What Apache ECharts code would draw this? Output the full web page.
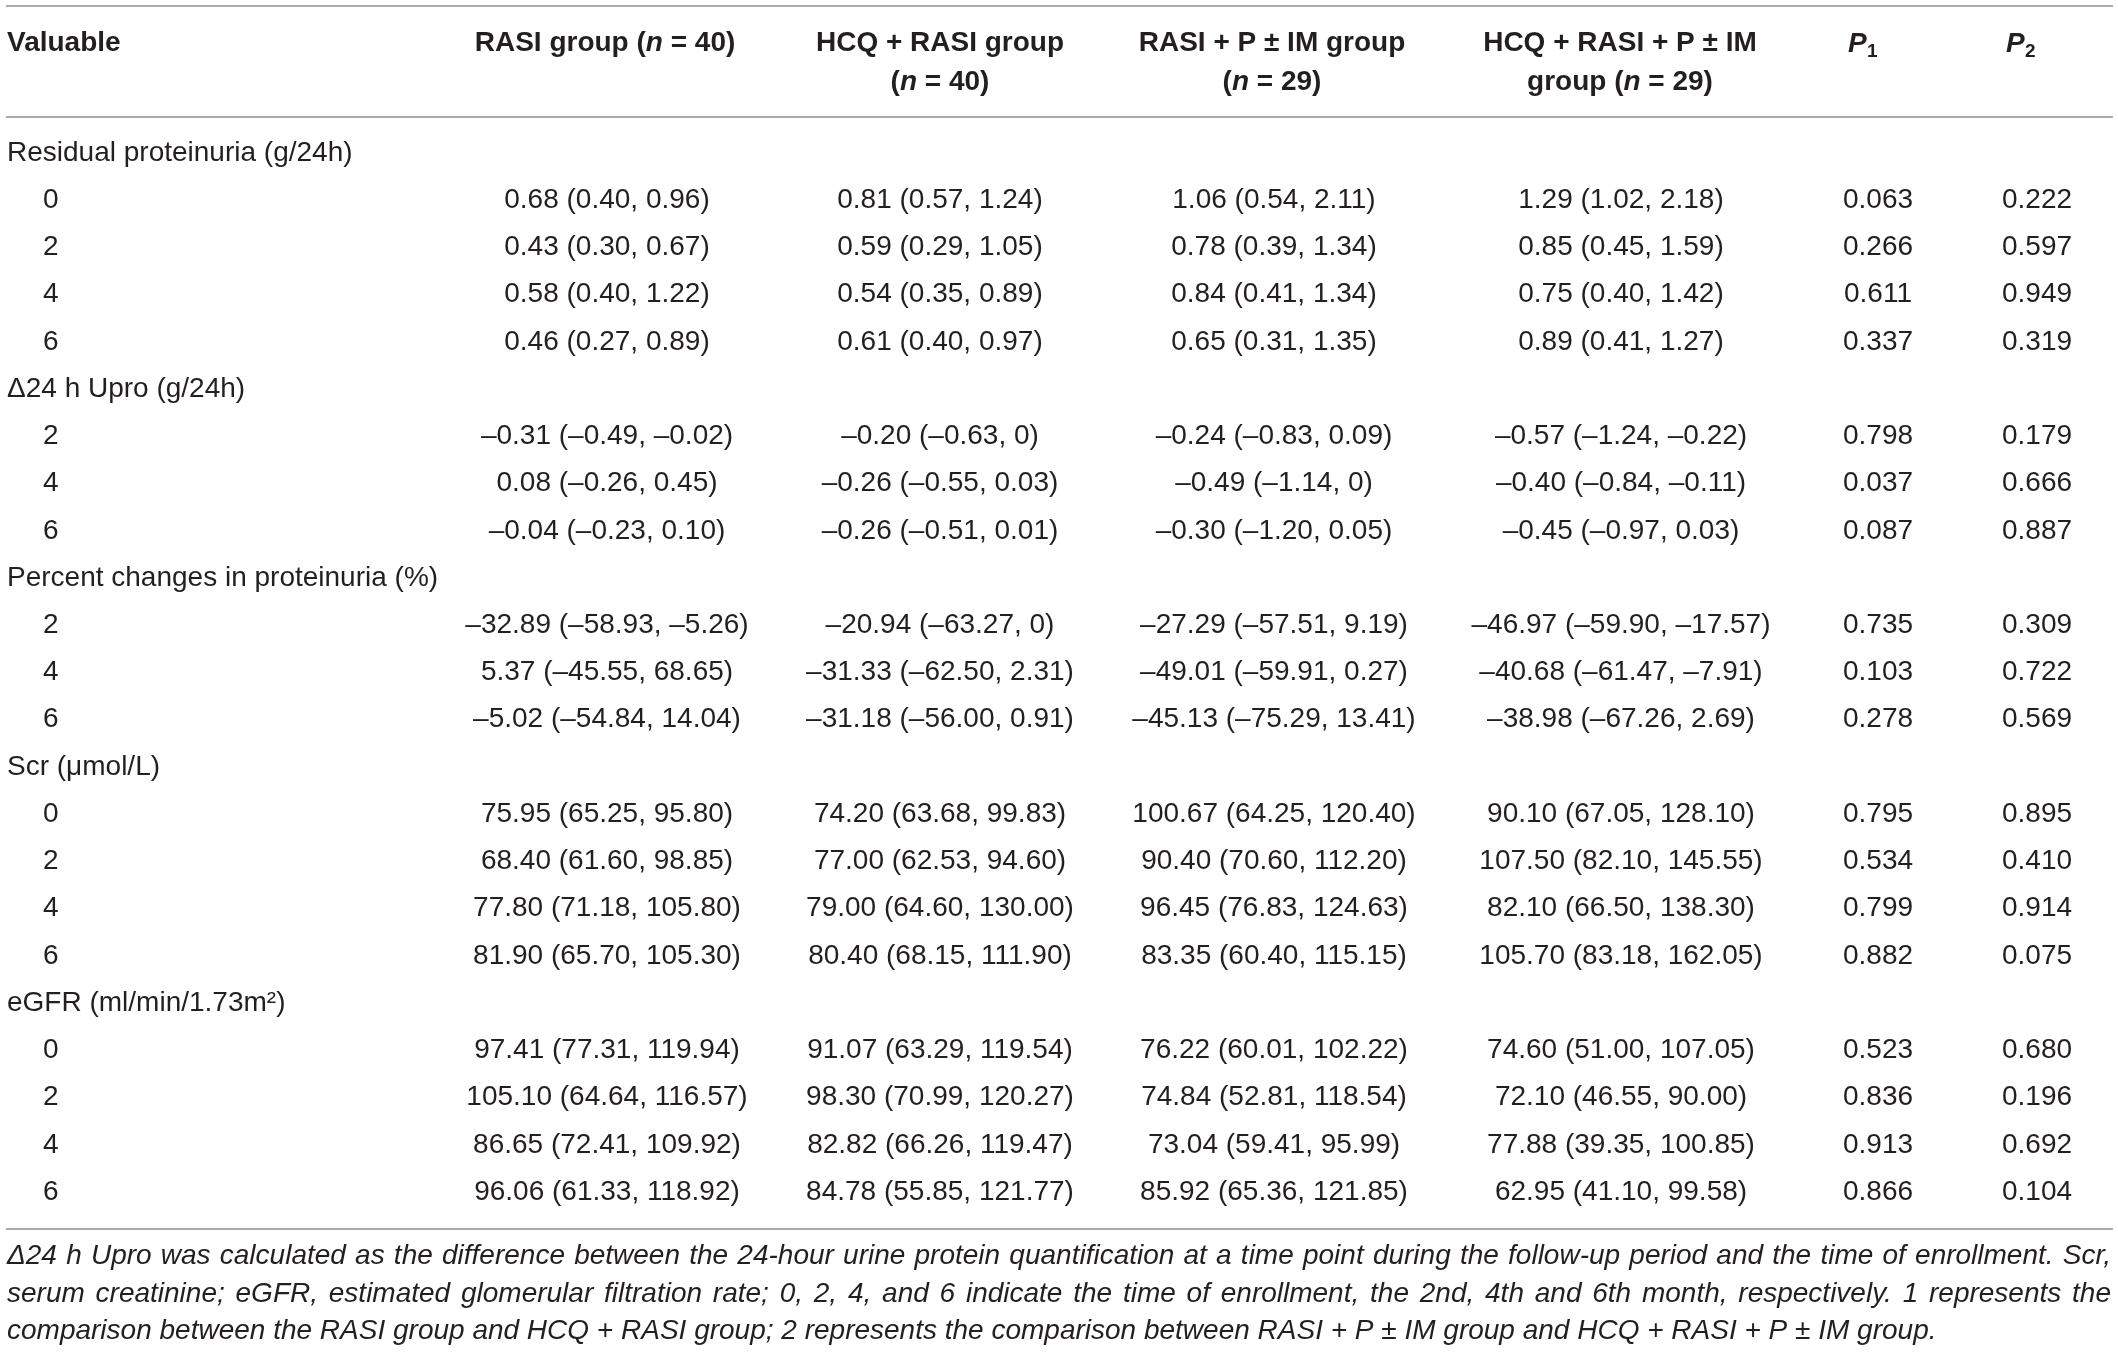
<!DOCTYPE html>
<html>
<head>
<meta charset="utf-8">
<title>Table</title>
<script src="https://cdn.jsdelivr.net/npm/echarts@6/dist/echarts.min.js"></script>
<style>
  html, body { margin: 0; padding: 0; background: #fff; }
  #main { width: 2118px; height: 1352px; }
</style>
</head>
<body>
<div id="main"></div>
<script type="text/javascript">

// ---- table data ----
var rowLabels = ['Residual proteinuria (g/24h)', '0', '2', '4', '6',
    '\u039424 h Upro (g/24h)', '2', '4', '6',
    'Percent changes in proteinuria (%)', '2', '4', '6',
    'Scr (\u03bcmol/L)', '0', '2', '4', '6',
    'eGFR (ml/min/1.73m\u00b2)', '0', '2', '4', '6'];

var rasiGroup = ['', '0.68 (0.40, 0.96)', '0.43 (0.30, 0.67)', '0.58 (0.40, 1.22)', '0.46 (0.27, 0.89)',
    '', '–0.31 (–0.49, –0.02)', '0.08 (–0.26, 0.45)', '–0.04 (–0.23, 0.10)',
    '', '–32.89 (–58.93, –5.26)', '5.37 (–45.55, 68.65)', '–5.02 (–54.84, 14.04)',
    '', '75.95 (65.25, 95.80)', '68.40 (61.60, 98.85)', '77.80 (71.18, 105.80)', '81.90 (65.70, 105.30)',
    '', '97.41 (77.31, 119.94)', '105.10 (64.64, 116.57)', '86.65 (72.41, 109.92)', '96.06 (61.33, 118.92)'];

var hcqRasiGroup = ['', '0.81 (0.57, 1.24)', '0.59 (0.29, 1.05)', '0.54 (0.35, 0.89)', '0.61 (0.40, 0.97)',
    '', '–0.20 (–0.63, 0)', '–0.26 (–0.55, 0.03)', '–0.26 (–0.51, 0.01)',
    '', '–20.94 (–63.27, 0)', '–31.33 (–62.50, 2.31)', '–31.18 (–56.00, 0.91)',
    '', '74.20 (63.68, 99.83)', '77.00 (62.53, 94.60)', '79.00 (64.60, 130.00)', '80.40 (68.15, 111.90)',
    '', '91.07 (63.29, 119.54)', '98.30 (70.99, 120.27)', '82.82 (66.26, 119.47)', '84.78 (55.85, 121.77)'];

var rasiPGroup = ['', '1.06 (0.54, 2.11)', '0.78 (0.39, 1.34)', '0.84 (0.41, 1.34)', '0.65 (0.31, 1.35)',
    '', '–0.24 (–0.83, 0.09)', '–0.49 (–1.14, 0)', '–0.30 (–1.20, 0.05)',
    '', '–27.29 (–57.51, 9.19)', '–49.01 (–59.91, 0.27)', '–45.13 (–75.29, 13.41)',
    '', '100.67 (64.25, 120.40)', '90.40 (70.60, 112.20)', '96.45 (76.83, 124.63)', '83.35 (60.40, 115.15)',
    '', '76.22 (60.01, 102.22)', '74.84 (52.81, 118.54)', '73.04 (59.41, 95.99)', '85.92 (65.36, 121.85)'];

var hcqRasiPGroup = ['', '1.29 (1.02, 2.18)', '0.85 (0.45, 1.59)', '0.75 (0.40, 1.42)', '0.89 (0.41, 1.27)',
    '', '–0.57 (–1.24, –0.22)', '–0.40 (–0.84, –0.11)', '–0.45 (–0.97, 0.03)',
    '', '–46.97 (–59.90, –17.57)', '–40.68 (–61.47, –7.91)', '–38.98 (–67.26, 2.69)',
    '', '90.10 (67.05, 128.10)', '107.50 (82.10, 145.55)', '82.10 (66.50, 138.30)', '105.70 (83.18, 162.05)',
    '', '74.60 (51.00, 107.05)', '72.10 (46.55, 90.00)', '77.88 (39.35, 100.85)', '62.95 (41.10, 99.58)'];

var p1Values = ['', '0.063', '0.266', '0.611', '0.337', '', '0.798', '0.037', '0.087',
    '', '0.735', '0.103', '0.278', '', '0.795', '0.534', '0.799', '0.882',
    '', '0.523', '0.836', '0.913', '0.866'];

var p2Values = ['', '0.222', '0.597', '0.949', '0.319', '', '0.179', '0.666', '0.887',
    '', '0.309', '0.722', '0.569', '', '0.895', '0.410', '0.914', '0.075',
    '', '0.680', '0.196', '0.692', '0.104'];

var footnoteLines = [
    '\u039424 h Upro was calculated as the difference between the 24-hour urine protein quantification at a time point during the follow-up period and the time of enrollment. Scr,',
    'serum creatinine; eGFR, estimated glomerular filtration rate; 0, 2, 4, and 6 indicate the time of enrollment, the 2nd, 4th and 6th month, respectively. 1 represents the',
    'comparison between the RASI group and HCQ + RASI group; 2 represents the comparison between RASI + P \u00b1 IM group and HCQ + RASI + P \u00b1 IM group.'
];

// ---- layout ----
var FONT = '"Liberation Sans", Arial, Helvetica, sans-serif';
var TXT = '#231f20';
var colX = [7, 607, 940, 1274, 1621, 1878, 2037];
var subIndent = 36;
var columns = [rowLabels, rasiGroup, hcqRasiGroup, rasiPGroup, hcqRasiPGroup, p1Values, p2Values];

var cells = [];
for (var c = 0; c < columns.length; c++) {
    for (var r = 0; r < rowLabels.length; r++) {
        if (columns[c][r] !== '') cells.push([c, r, columns[c][r]]);
    }
}
var groupRow = function (r) { return rasiGroup[r] === ''; };

// ---- header / rules / footnote as graphics ----
var graphics = [];
function hline(y) {
    graphics.push({ type: 'line', shape: { x1: 6, y1: y, x2: 2113, y2: y },
        style: { stroke: '#8f8f8f', lineWidth: 1.6 }, silent: true });
}
hline(6); hline(117); hline(1229);

var headRich = {
    b: { fontFamily: FONT, fontSize: 28, fontWeight: 'bold', fill: TXT },
    i: { fontFamily: FONT, fontSize: 28, fontWeight: 'bold', fontStyle: 'italic', fill: TXT }
};
function head(x, y, text, align) {
    graphics.push({ type: 'text', x: x, y: y, silent: true,
        style: { text: text, rich: headRich, align: align || 'center', verticalAlign: 'middle',
            font: 'bold 28px ' + FONT, fill: TXT } });
}
head(7, 43, '{b|Valuable}', 'left');
head(605, 43, '{b|RASI group (}{i|n}{b| = 40)}');
head(940, 43, '{b|HCQ + RASI group}');
head(940, 82, '{b|(}{i|n}{b| = 40)}');
head(1272, 43, '{b|RASI + P \u00b1 IM group}');
head(1272, 82, '{b|(}{i|n}{b| = 29)}');
head(1620, 43, '{b|HCQ + RASI + P \u00b1 IM}');
head(1620, 82, '{b|group (}{i|n}{b| = 29)}');
// P with subscript
[[1848, '1'], [2006, '2']].forEach(function (p) {
    graphics.push({ type: 'text', x: p[0], y: 44, silent: true,
        style: { text: 'P', align: 'left', verticalAlign: 'middle',
            font: 'italic bold 28px ' + FONT, fill: TXT } });
    graphics.push({ type: 'text', x: p[0] + 19, y: 52, silent: true,
        style: { text: p[1], align: 'left', verticalAlign: 'middle',
            font: 'bold 19px ' + FONT, fill: TXT } });
});

// justified footnote lines, measured word by word
var noteFont = 'italic 28px ' + FONT;
var mctx = document.createElement('canvas').getContext('2d');
mctx.font = noteFont;
var noteY = [1256, 1294, 1331];
footnoteLines.forEach(function (line, li) {
    var words = line.split(' ');
    var left = 7, right = 2111;
    if (li === footnoteLines.length - 1) {
        graphics.push({ type: 'text', x: left, y: noteY[li], silent: true,
            style: { text: line, align: 'left', verticalAlign: 'middle', font: noteFont, fill: TXT } });
        return;
    }
    var widths = words.map(function (w) { return mctx.measureText(w).width; });
    var total = widths.reduce(function (a, b) { return a + b; }, 0);
    var gap = (right - left - total) / (words.length - 1);
    var x = left;
    words.forEach(function (w, wi) {
        graphics.push({ type: 'text', x: x, y: noteY[li], silent: true,
            style: { text: w, align: 'left', verticalAlign: 'middle', font: noteFont, fill: TXT } });
        x += widths[wi] + gap;
    });
});

var chart = echarts.init(document.getElementById('main'));
chart.setOption({
    animation: false,
    backgroundColor: '#ffffff',
    grid: { left: 0, right: 0, top: 129.4, height: 1086.3 },
    xAxis: { type: 'value', min: 0, max: 1, show: false },
    yAxis: { type: 'category', inverse: true, show: false,
        data: rowLabels.map(function (d, i) { return i; }) },
    graphic: graphics,
    series: [{
        type: 'custom',
        silent: true,
        data: cells,
        renderItem: function (params, api) {
            var c = api.value(0), r = api.value(1);
            var y = api.coord([0, r])[1];
            var text = cells[params.dataIndex][2];
            var x = colX[c], align = 'center';
            if (c === 0) {
                align = 'left';
                if (!groupRow(r)) x = colX[0] + subIndent;
            }
            return {
                type: 'text',
                style: { text: text, x: x, y: y, align: align, verticalAlign: 'middle',
                    font: '28px ' + FONT, fill: TXT }
            };
        }
    }]
});
</script>
</body>
</html>
